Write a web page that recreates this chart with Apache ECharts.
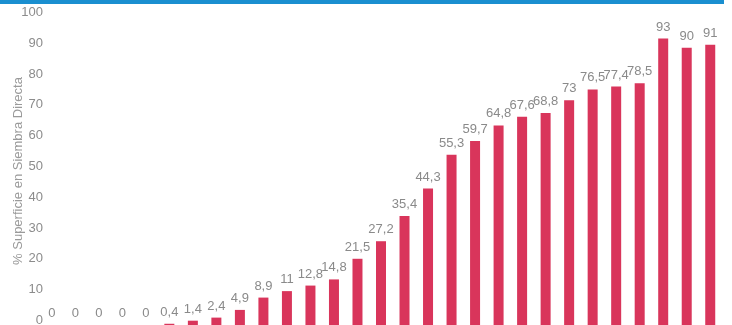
<!DOCTYPE html>
<html>
<head>
<meta charset="utf-8">
<title>Siembra Directa</title>
<script src="https://cdn.jsdelivr.net/npm/echarts@6/dist/echarts.min.js"></script>
<style>
    html, body { margin: 0; padding: 0; background: #fff; }
    #container { width: 732px; height: 325px; }
</style>
</head>
<body>
<div id="container"></div>
<script type="text/javascript">
    // datos
    var categorias = ['1', '2', '3', '4', '5', '6', '7', '8', '9', '10', '11', '12', '13', '14', '15',
        '16', '17', '18', '19', '20', '21', '22', '23', '24', '25', '26', '27', '28', '29'];
    var superficie = [0, 0, 0, 0, 0, 0.4, 1.4, 2.4, 4.9, 8.9, 11, 12.8, 14.8, 21.5, 27.2,
        35.4, 44.3, 55.3, 59.7, 64.8, 67.6, 68.8, 73, 76.5, 77.4, 78.5, 93, 90, 91];
    var ticksY = [0, 10, 20, 30, 40, 50, 60, 70, 80, 90, 100];

    var fuente = '"Liberation Sans Narrow", "Liberation Sans", sans-serif';

    var mychart = echarts.init(document.getElementById('container'));

    var options = {
        animation: false,
        grid: { left: 40, right: 10, top: 17, bottom: 0, outerBoundsMode: 'none', containLabel: false },
        graphic: [{
            type: 'rect',
            shape: { x: 0, y: 0, width: 724, height: 4 },
            style: { fill: '#1a8fd0' }
        }],
        xAxis: [{
            type: 'category',
            data: categorias,
            axisLine: { show: false },
            axisTick: { show: false },
            axisLabel: { show: false }
        }],
        yAxis: [{
            type: 'value',
            min: ticksY[0],
            max: ticksY[ticksY.length - 1],
            interval: 10,
            name: '% Superficie en Siembra Directa',
            nameLocation: 'middle',
            nameGap: 15,
            nameMoveOverlap: false,
            nameTextStyle: { color: '#9a9a9a', fontSize: 13, fontFamily: fuente },
            axisLine: { show: false },
            axisTick: { show: false },
            splitLine: { show: false },
            axisLabel: {
                margin: -3,
                verticalAlign: 'bottom',
                lineHeight: 9,
                color: '#8c8c8c',
                fontSize: 13,
                fontFamily: fuente
            }
        }],
        series: [{
            type: 'bar',
            data: superficie,
            barWidth: 10,
            itemStyle: { color: '#d9355b' },
            label: {
                show: true,
                position: 'top',
                distance: 5,
                color: '#8a8a8a',
                fontSize: 13,
                fontFamily: fuente,
                formatter: function (p) {
                    return String(p.value).replace('.', ',');
                }
            }
        }]
    };

    mychart.setOption(options);
</script>
</body>
</html>
